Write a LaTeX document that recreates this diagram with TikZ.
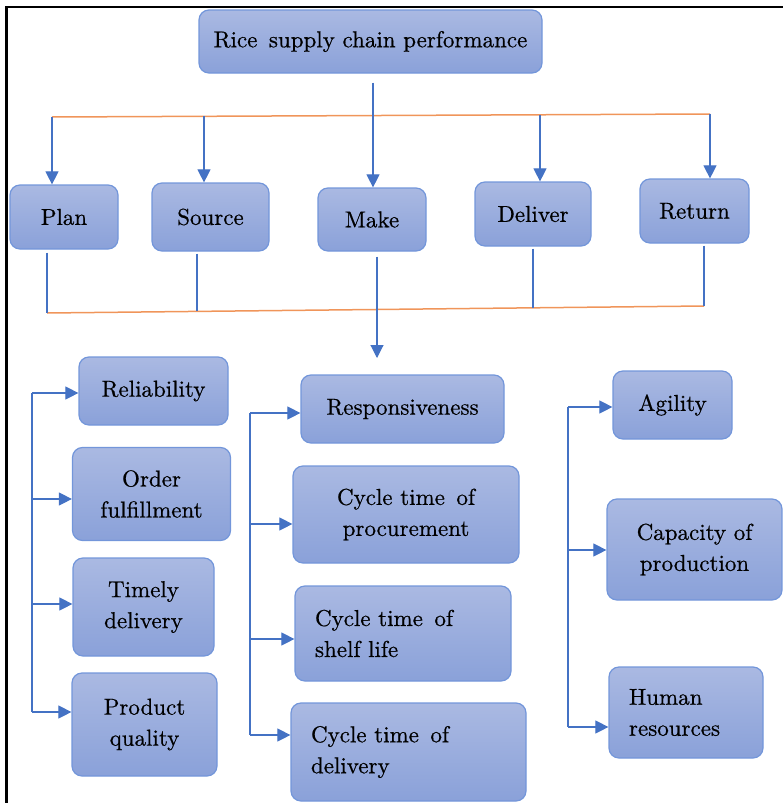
\documentclass[tikz,border=0pt]{standalone}
\usepackage{fontspec}
\setmainfont{lmroman10-regular.otf}[FakeBold=0.6]
\usetikzlibrary{arrows.meta}

\definecolor{boxtop}{HTML}{AAB9E2}
\definecolor{boxbot}{HTML}{8AA1D9}
\definecolor{boxline}{HTML}{7396DA}
\definecolor{linkblue}{HTML}{4472C4}
\definecolor{barorange}{HTML}{F0955A}

\begin{document}
\begin{tikzpicture}[x=1pt, y=-1pt,
  box/.style={draw=boxline, line width=1.2pt, rounded corners=10pt,
    top color=boxtop, bottom color=boxbot, inner sep=0pt, align=center,
    font=\fontsize{23}{31}\selectfont},
  wh/.style 2 args={minimum width=#1pt, minimum height=#2pt},
  lbox/.style 2 args={box, align=left, inner xsep=20pt,
    text width=#1pt-40pt, minimum height=#2pt},
  link/.style={draw=linkblue, line width=1.1pt},
  arr/.style={link, -{Triangle[length=13pt, width=13pt]}},
  bar/.style={draw=barorange, line width=1.5pt}]

\useasboundingbox (0,0) rectangle (783,803);

% frame on the left and top edges
\draw[line width=2.6pt, line cap=rect] (6.5,803) -- (6.5,7) -- (783,7);

% top level
\node[box, wh={343}{63}] (top) at (370.5,41.5) {Rice\hspace{.5em}supply chain performance};

% SCOR processes
\node[box, wh={108}{64}] (plan)    at (64,217)    {Plan};
\node[box, wh={117}{68}] (source)  at (210.5,217) {Source};
\node[box, wh={108}{63}] (make)    at (372,219.5) {Make};
\node[box, wh={116}{64}] (deliver) at (533,214)   {Deliver};
\node[box, wh={109}{64}] (return)  at (694.5,211) {Return};

% distribution bar above the processes
\coordinate (ta) at (52,117);
\coordinate (tb) at (204,116.3);
\coordinate (td) at (540,114.8);
\coordinate (te) at (710,114);
\draw[bar] (ta) -- (te);
\draw[arr] (ta) -- (plan.north -| ta);
\draw[arr] (tb) -- (source.north -| tb);
\draw[arr] (td) -- (deliver.north -| td);
\draw[arr] (te) -- (return.north -| te);
\draw[arr, shorten <=9pt] ([xshift=1pt]top.south -| make.north) -- ([xshift=1pt]make.north);

% collecting bar below the processes
\coordinate (ba) at (47,313);
\coordinate (bb) at (197,311.4);
\coordinate (bd) at (533,307.8);
\coordinate (be) at (704,306);
\draw[bar] (ba) -- (be);
\draw[link, shorten <=3pt] (plan.south -| ba) -- (ba);
\draw[link, shorten <=2pt] (source.south -| bb) -- (bb);
\draw[link, shorten <=2pt] (deliver.south -| bd) -- (bd);
\draw[link, shorten <=2pt] (return.south -| be) -- (be);

\coordinate (mk) at (377,358);
\draw[arr, shorten <=5pt] (make.south -| mk) -- (mk);

% reliability group
\node[box, wh={149}{68}]  (rel)   at (153.5,391) {Reliability};
\node[box, wh={158}{93}]  (order) at (151.5,494) {Order\\fulfillment};
\node[box, wh={141}{98}]  (timely) at (143.5,607) {Timely\\delivery};
\node[box, wh={145}{103}] (quality) at (144.5,724.5) {Product\\quality};

\coordinate (r1) at (32,393);
\coordinate (r2) at (32,499);
\coordinate (r3) at (32,604);
\coordinate (r4) at (32,712);
\draw[link] (r1) -- (r4);
\draw[arr] (r1) -- (rel.west |- r1);
\draw[arr] (r2) -- (order.west |- r2);
\draw[arr] (r3) -- (timely.west |- r3);
\draw[arr] (r4) -- (quality.west |- r4);

% responsiveness group
\node[box, wh={203}{68}]  (resp)  at (402.5,409)   {Responsiveness};
\node[box, wh={226}{97}]  (proc)  at (406,514.5)   {Cycle time\hspace{.5em}of\\procurement};
\node[lbox={216}{95}]     (shelf) at (403,633.5)   {Cycle time\hspace{.5em}of\\shelf life};
\node[lbox={235}{98}]     (cdel)  at (408.5,752)   {Cycle time\hspace{.5em}of\\delivery};

\coordinate (s1) at (250,413);
\coordinate (s2) at (250,524);
\coordinate (s3) at (250,639);
\coordinate (s4) at (250,735);
\draw[link] (s1) -- (s4);
\draw[arr] (s1) -- (resp.west |- s1);
\draw[arr] (s2) -- (proc.west |- s2);
\draw[arr] (s3) -- (shelf.west |- s3);
\draw[arr] (s4) -- (cdel.west |- s4);

% agility group
\node[box, wh={119}{68}]  (agil)  at (672.5,405)   {Agility};
\node[box, wh={175}{101}] (cap)   at (694.5,549.5) {Capacity of\\production};
\node[lbox={154}{91}]     (human) at (686,712.5)   {Human\\resources};

\coordinate (g1) at (568,407);
\coordinate (g2) at (568,550);
\coordinate (g3) at (568,727);
\draw[link] (g1) -- (g3);
\draw[arr] (g1) -- (agil.west |- g1);
\draw[arr] (g2) -- (cap.west |- g2);
\draw[arr] (g3) -- (human.west |- g3);

\end{tikzpicture}
\end{document}
